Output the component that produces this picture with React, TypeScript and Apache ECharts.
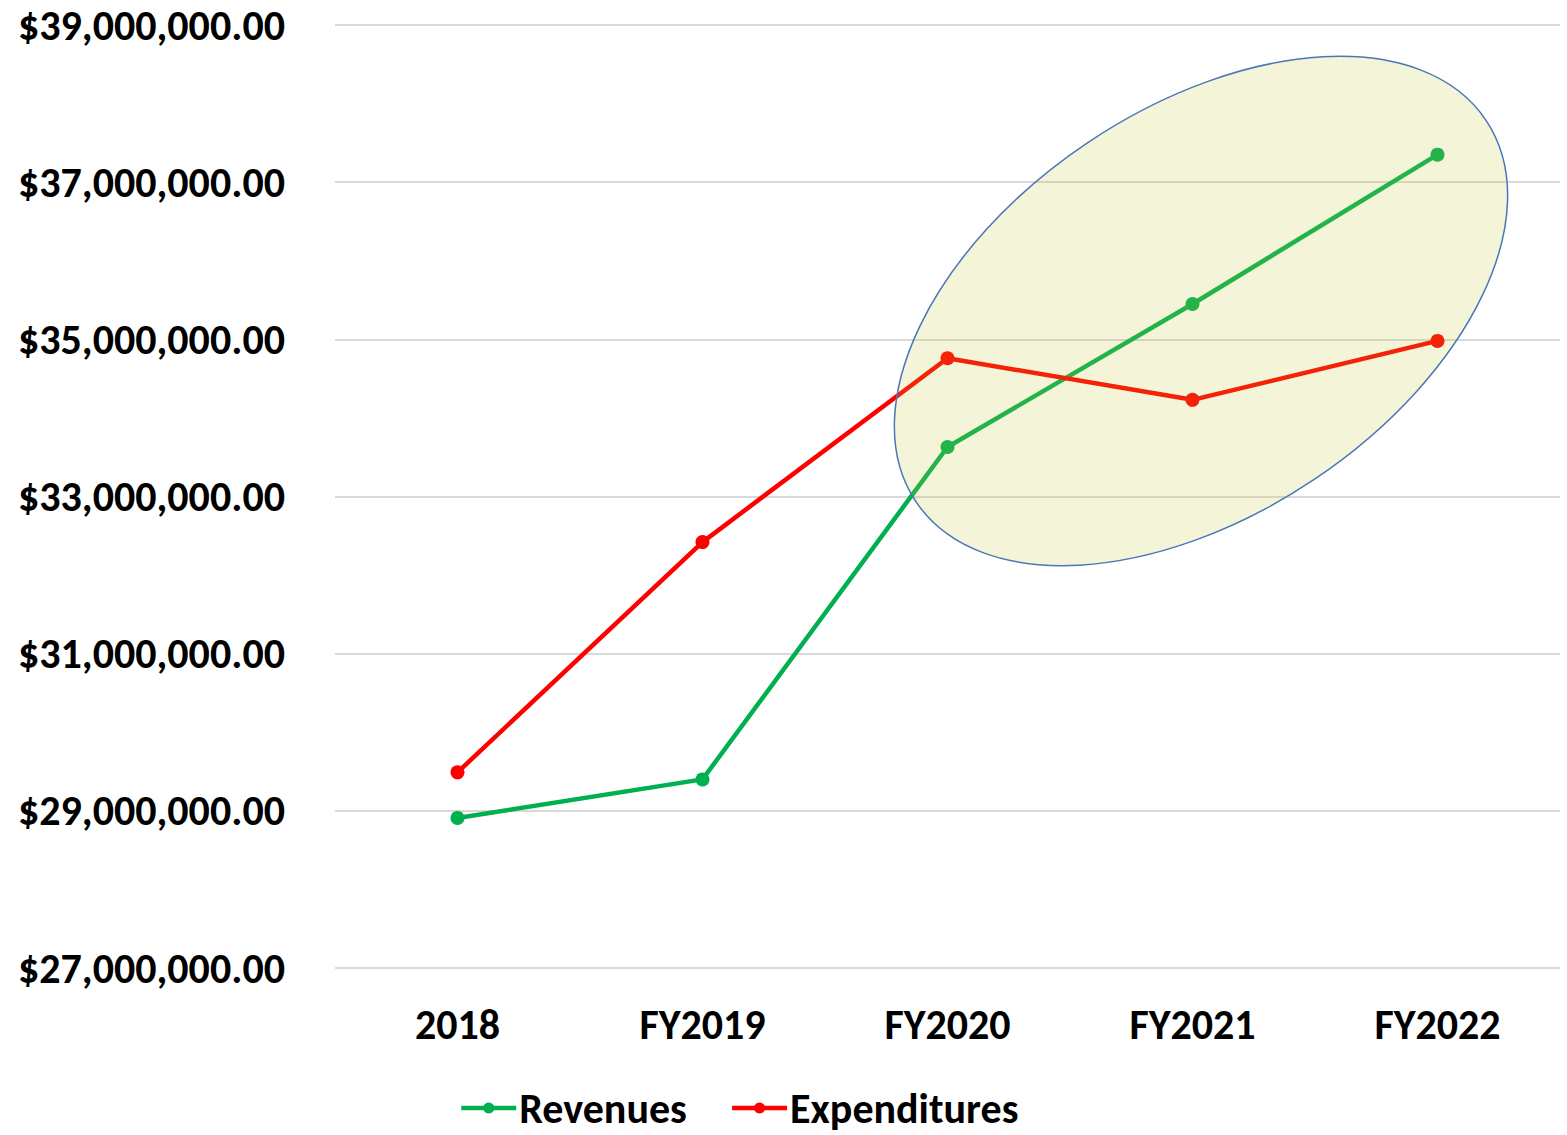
import React, { useEffect, useRef } from "react";
import * as echarts from "echarts";

const categories = ["2018", "FY2019", "FY2020", "FY2021", "FY2022"];
const revenues = [28910000, 29400000, 33630000, 35450000, 37350000];
const expenditures = [29490000, 32420000, 34760000, 34230000, 34980000];
const yMin = 27000000;
const yMax = 39000000;
const yStep = 2000000;

const FONT = "Carlito, Lato, 'Liberation Sans', sans-serif";
const FS = 42;

function money(v: number): string {
  return "$" + Math.round(v).toString().replace(/\B(?=(\d{3})+(?!\d))/g, ",") + ".00";
}

export default function App() {
  const ref = useRef<HTMLDivElement>(null);
  useEffect(() => {
    if (!ref.current) return;
    const chart = echarts.init(ref.current, null, { renderer: "svg" });
    chart.setOption({
      animation: false,
      backgroundColor: "#ffffff",
      grid: { left: 335, right: 7, top: 25, bottom: 167, containLabel: false },
      xAxis: {
        type: "category",
        data: categories,
        boundaryGap: true,
        axisLine: { show: false },
        axisTick: { show: false },
        axisLabel: {
          margin: 35,
          color: "#000000",
          fontFamily: FONT,
          fontWeight: "bold",
          fontSize: FS,
        },
      },
      yAxis: {
        type: "value",
        min: yMin,
        max: yMax,
        interval: yStep,
        axisLine: { show: false },
        axisTick: { show: false },
        splitLine: { lineStyle: { color: "#d9d9d9", width: 2 } },
        axisLabel: {
          margin: 50,
          color: "#000000",
          fontFamily: FONT,
          fontWeight: "bold",
          fontSize: FS,
          formatter: (v: number) => money(v),
        },
      },
      legend: {
        left: 459,
        top: 1087,
        padding: 0,
        itemWidth: 55,
        itemHeight: 14,
        itemGap: 43,
        lineStyle: { width: 4.5 },
        textStyle: {
          color: "#000000",
          fontFamily: FONT,
          fontWeight: "bold",
          fontSize: FS,
          lineHeight: 42,
          padding: [0, 0, 0, -2],
        },
        data: ["Revenues", "Expenditures"],
      },
      series: [
        {
          name: "Revenues",
          type: "line",
          data: revenues,
          symbol: "circle",
          symbolSize: 14,
          color: "#00b050",
          lineStyle: { width: 4.5, color: "#00b050" },
          itemStyle: { color: "#00b050" },
        },
        {
          name: "Expenditures",
          type: "line",
          data: expenditures,
          symbol: "circle",
          symbolSize: 14,
          color: "#ff0000",
          lineStyle: { width: 4.5, color: "#ff0000" },
          itemStyle: { color: "#ff0000" },
        },
      ],
      graphic: [
        {
          type: "ellipse",
          x: 1201,
          y: 311,
          rotation: (33.8 * Math.PI) / 180,
          shape: { cx: 0, cy: 0, rx: 343, ry: 203 },
          style: {
            fill: "rgba(196,196,40,0.18)",
            stroke: "#4a76b8",
            lineWidth: 1.5,
          },
          z: 100,
        },
      ],
    });
    return () => chart.dispose();
  }, []);
  return (
    <div
      ref={ref}
      style={{ position: "fixed", left: 0, top: 0, width: 1567, height: 1135 }}
    />
  );
}
